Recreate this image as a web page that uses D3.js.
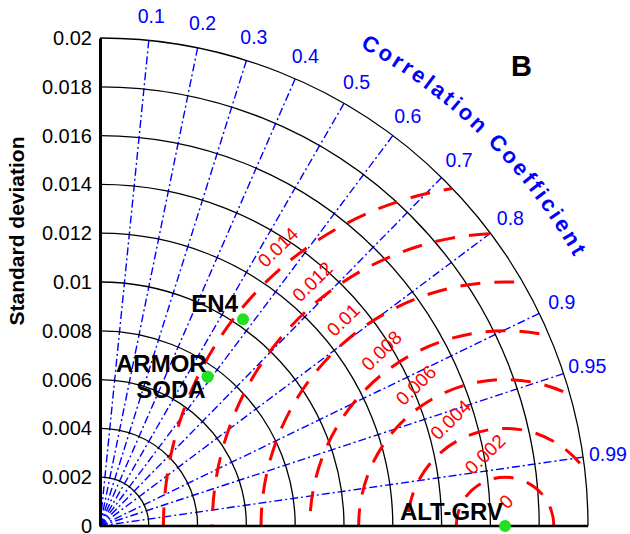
<!DOCTYPE html>
<html>
<head>
<meta charset="utf-8">
<script src="https://cdn.jsdelivr.net/npm/d3@7"></script>
<style>
  body { margin: 0; background: #fff; }
  svg { font-family: "Liberation Sans", Arial, Helvetica, sans-serif; }
</style>
</head>
<body>
<svg id="chart" width="630" height="534"></svg>
<script>
// Taylor diagram values
const sdTicks = [0, 0.002, 0.004, 0.006, 0.008, 0.01, 0.012, 0.014, 0.016, 0.018, 0.02];
const corrTicks = [0.1, 0.2, 0.3, 0.4, 0.5, 0.6, 0.7, 0.8, 0.9, 0.95, 0.99];
const rmsLevels = [0, 0.002, 0.004, 0.006, 0.008, 0.01, 0.012, 0.014];
const models = ["ALT-GRV", "EN4", "ARMOR", "SODA"];
const modelSD = [0.0166, 0.0103, 0.00754, 0.00754];
const modelCorr = [1.0, 0.569, 0.585, 0.585];
const refSD = 0.0166; // ALT-GRV is the reference

const svg = d3.select("#chart");
const ox = 100, oy = 526;           // origin of the diagram
const r = d3.scaleLinear().domain([0, 0.02]).range([0, 488]);
const R = r(0.02);

// polar -> screen
const pt = (sd, c) => {
  const a = Math.acos(c);
  return [ox + r(sd) * Math.cos(a), oy - r(sd) * Math.sin(a)];
};

svg.append("defs").append("clipPath").attr("id", "quarter")
  .append("path")
  .attr("d", `M${ox},${oy}L${ox + R},${oy}A${R},${R} 0 0 0 ${ox},${oy - R}Z`);

// correlation rays
const g = svg.append("g");
g.selectAll("line.corr")
  .data(corrTicks)
  .join("line")
  .attr("class", "corr")
  .attr("x1", ox).attr("y1", oy)
  .attr("x2", d => pt(0.02, d)[0])
  .attr("y2", d => pt(0.02, d)[1])
  .attr("stroke", "#0000ff")
  .attr("stroke-width", 1.4)
  .attr("stroke-dasharray", "8,3,2,3");

// std dev arcs
g.selectAll("path.sd")
  .data(sdTicks.filter(d => d > 0))
  .join("path")
  .attr("class", "sd")
  .attr("d", d => `M${ox + r(d)},${oy}A${r(d)},${r(d)} 0 0 0 ${ox},${oy - r(d)}`)
  .attr("fill", "none")
  .attr("stroke", "#000")
  .attr("stroke-width", 1.3);

// RMS difference arcs around reference
const cx = ox + r(refSD);
g.append("g").attr("clip-path", "url(#quarter)")
  .selectAll("path")
  .data(rmsLevels.filter(d => d > 0))
  .join("path")
  .attr("d", d => {
    const p = d3.path();
    p.moveTo(cx + r(d), oy);
    p.arc(cx, oy, r(d), 0, -Math.PI, true);
    return p.toString();
  })
  .attr("fill", "none")
  .attr("stroke", "#ff0000")
  .attr("stroke-width", 3)
  .attr("stroke-dasharray", "20,14");

// RMS labels
g.selectAll("text.rms")
  .data(rmsLevels)
  .join("text")
  .attr("class", "rms")
  .attr("transform", d => {
    const x = cx - r(d) * Math.SQRT1_2 + 2;
    const y = oy - r(d) * Math.SQRT1_2 - 16;
    return `translate(${x},${y}) rotate(-44)`;
  })
  .attr("fill", "#ff0000")
  .attr("font-size", 19)
  .text(d => d === 0 ? "0" : String(+d.toFixed(3)));

// axes
const yAxis = d3.scaleLinear().domain([0, 0.02]).range([oy, oy - R]);
const ag = svg.append("g")
  .attr("transform", `translate(${ox},0)`)
  .call(d3.axisLeft(yAxis).tickValues(sdTicks).tickSize(0).tickPadding(8)
    .tickFormat(d => String(+d.toFixed(3))));
ag.select(".domain").attr("stroke", "#000").attr("stroke-width", 3);
ag.selectAll("text").attr("font-size", 20).attr("fill", "#000")
  .attr("font-family", "Liberation Sans, Arial, sans-serif");

svg.append("line")
  .attr("x1", ox).attr("y1", oy).attr("x2", ox + R).attr("y2", oy)
  .attr("stroke", "#000").attr("stroke-width", 2.5);

svg.append("text")
  .attr("transform", `translate(24,231) rotate(-90)`)
  .attr("text-anchor", "middle")
  .attr("font-size", 21)
  .attr("font-weight", "bold")
  .text("Standard deviation");

// correlation tick labels
svg.selectAll("text.ctick")
  .data(corrTicks)
  .join("text")
  .attr("class", "ctick")
  .attr("x", d => ox + 513 * d)
  .attr("y", d => oy - 513 * Math.sqrt(1 - d * d))
  .attr("text-anchor", "middle")
  .attr("dominant-baseline", "central")
  .attr("fill", "#0000ff")
  .attr("font-size", 19.5)
  .text(d => String(d));

// curved title
const a0 = 61.5 * Math.PI / 180, a1 = 27 * Math.PI / 180, rr = 545;
svg.append("path").attr("id", "ccpath").attr("fill", "none")
  .attr("d", `M${ox + rr * Math.cos(a0)},${oy - rr * Math.sin(a0)}A${rr},${rr} 0 0 1 ${ox + rr * Math.cos(a1)},${oy - rr * Math.sin(a1)}`);
svg.append("text")
  .attr("fill", "#0000ff")
  .attr("font-size", 22)
  .attr("font-weight", "bold")
  .attr("letter-spacing", 3)
  .append("textPath")
  .attr("href", "#ccpath")
  .text("Correlation Coefficient");

svg.append("text")
  .attr("x", 511).attr("y", 76)
  .attr("font-size", 29)
  .attr("font-weight", "bold")
  .text("B");

// model points
const place = {
  "ALT-GRV": { dx: -2, dy: -6, anchor: "end" },
  "EN4": { dx: -5, dy: -7, anchor: "end" },
  "ARMOR": { dx: -1, dy: -5, anchor: "end" },
  "SODA": { dx: -2, dy: 21, anchor: "end" }
};
const pts = models.map((m, i) => ({ name: m, p: pt(modelSD[i], modelCorr[i]) }));

svg.selectAll("circle.model")
  .data(pts)
  .join("circle")
  .attr("class", "model")
  .attr("cx", d => d.p[0])
  .attr("cy", d => d.p[1])
  .attr("r", 6)
  .attr("fill", "#22e022");

svg.selectAll("text.model")
  .data(pts)
  .join("text")
  .attr("class", "model")
  .attr("x", d => d.p[0] + place[d.name].dx)
  .attr("y", d => d.p[1] + place[d.name].dy)
  .attr("text-anchor", d => place[d.name].anchor)
  .attr("font-size", 24)
  .attr("font-weight", "bold")
  .text(d => d.name);
</script>
</body>
</html>
